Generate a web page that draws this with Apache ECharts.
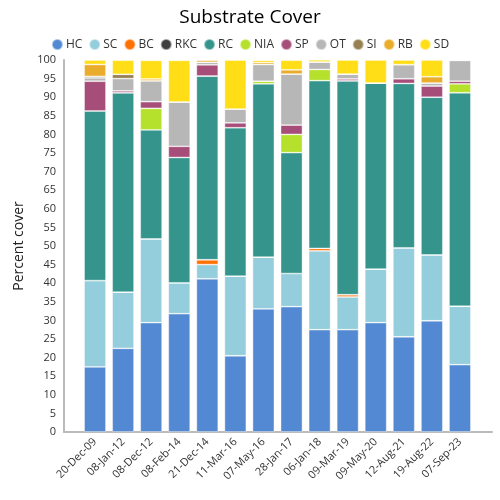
<!DOCTYPE html>
<html><head><meta charset="utf-8">
<script src="https://cdn.jsdelivr.net/npm/echarts@6/dist/echarts.min.js"></script>
<style>html,body{margin:0;padding:0;background:#fff}#c{width:500px;height:500px}</style>
</head><body><div id="c"></div>
<script>
const categories = ['20-Dec-09','08-Jan-12','08-Dec-12','08-Feb-14','21-Dec-14','11-Mar-16','07-May-16','28-Jan-17','06-Jan-18','09-Mar-19','09-May-20','12-Aug-21','19-Aug-22','07-Sep-23'];
const HC  = [17.5,22.5,29.4,31.8,41.2,20.5,33.1,33.7,27.5,27.5,29.4,25.6,29.9,18.1];
const SC  = [23.2,15.1,22.5,8.3,3.8,21.4,13.9,8.9,21.2,8.8,14.4,23.9,17.7,15.7];
const BC  = [0,0,0,0,1.3,0,0,0,0.65,0.6,0,0,0,0];
const RKC = [0,0,0,0,0,0,0,0,0,0,0,0,0,0];
const RC  = [45.6,53.6,29.3,33.7,49.4,39.9,46.6,32.5,45.1,57.5,50.0,44.2,42.4,57.4];
const NIA = [0,0,5.8,0,0,0,0.7,4.9,3.0,0,0,0,0,2.4];
const SP  = [8.0,0.5,1.8,3.0,3.0,1.3,0,2.5,0,0.5,0,1.25,3.0,0.7];
const OT  = [0.9,3.3,5.6,11.9,0.7,3.7,4.5,13.7,2.0,1.3,0,3.8,0.8,5.6];
const SI  = [0.4,1.15,0,0,0,0,0,0,0,0,0,0,0,0];
const RB  = [3.2,0,0.5,0,0.6,0,0.5,1.15,0,0,0,0,1.7,0];
const SD  = [1.2,3.8,5.0,11.2,0,13.2,0.6,2.6,0.6,3.8,6.2,1.25,4.5,0];
const seriesNames = ['HC','SC','BC','RKC','RC','NIA','SP','OT','SI','RB','SD'];
const seriesData = [HC,SC,BC,RKC,RC,NIA,SP,OT,SI,RB,SD];
const colors = ['#5389d3','#94cddb','#ff7100','#404040','#35958d','#b5e02b','#a64d79','#b7b7b7','#968054','#e9ac2b','#ffde18'];
const yTicks = {min:0,max:100,interval:5};
const font = 'Open Sans, DejaVu Sans, sans-serif';

const chart = echarts.init(document.getElementById('c'));
chart.setOption({
  animation:false,
  color: colors,
  title:{text:'Substrate Cover',left:'center',top:3,textStyle:{fontSize:19,fontWeight:'normal',color:'#000',fontFamily:font}},
  legend:{top:33,left:'center',itemWidth:11,itemHeight:11,itemGap:6,icon:'circle',
    textStyle:{fontSize:12,color:'#333',fontFamily:font,padding:[0,0,0,-2]},data:seriesNames},
  grid:[
    {left:81,right:26,top:60,bottom:68},
    {left:64,right:8,top:60,bottom:68}
  ],
  xAxis:[
    {type:'category',data:categories,gridIndex:0,
     axisLine:{show:false},axisTick:{show:false},
     axisLabel:{rotate:45,fontSize:11,color:'#333',interval:0,margin:8,fontFamily:font}},
    {type:'category',data:[''],gridIndex:1,
     axisLine:{show:true,onZero:false,lineStyle:{color:'#bbb',width:2}},axisTick:{show:false},
     axisLabel:{show:false},splitLine:{show:false}}
  ],
  yAxis:[
    {type:'value',gridIndex:0,min:yTicks.min,max:yTicks.max,interval:yTicks.interval,show:false},
    {type:'value',gridIndex:1,min:yTicks.min,max:yTicks.max,interval:yTicks.interval,
     name:'Percent cover',nameLocation:'middle',nameGap:31,nameRotate:90,
     nameTextStyle:{fontSize:14,color:'#222',fontFamily:font},
     axisLine:{show:true,onZero:false,lineStyle:{color:'#bbb',width:2}},axisTick:{show:false},
     splitLine:{show:false},axisLabel:{fontSize:11,color:'#333',margin:8,fontFamily:font}}
  ],
  series: seriesNames.map((n,i)=>({
    name:n,type:'bar',stack:'total',data:seriesData[i],barWidth:'78%',
    xAxisIndex:0,yAxisIndex:0,
    itemStyle:{borderColor:'rgba(255,255,255,0.5)',borderWidth:0.8}
  }))
});
</script></body></html>
